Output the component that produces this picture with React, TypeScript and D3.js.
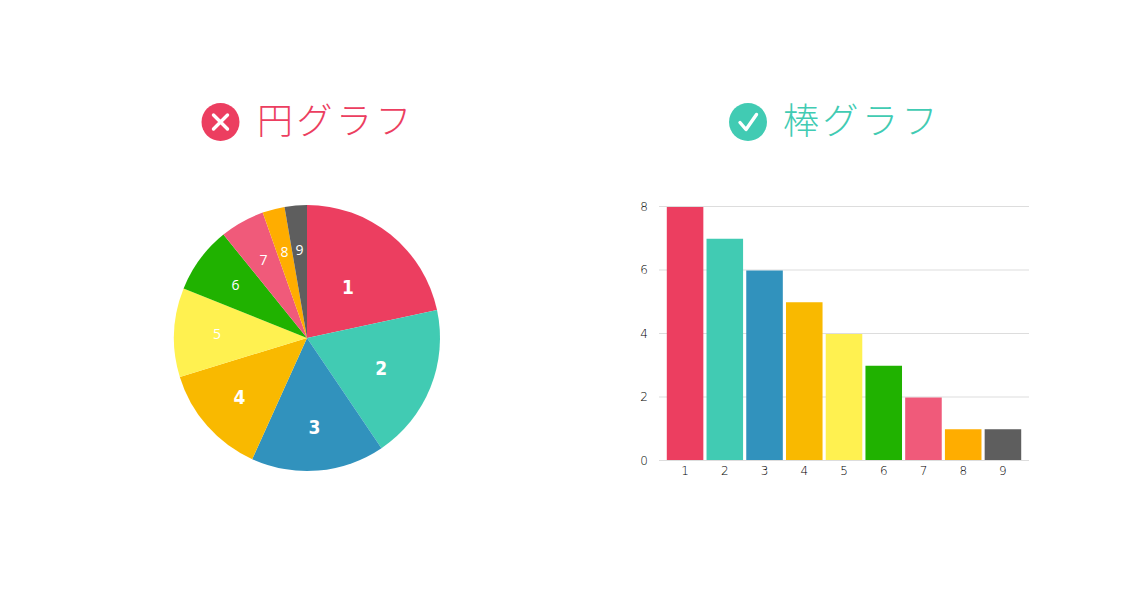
import React, { useEffect, useRef } from 'react';
import * as d3 from 'd3';

const categories = ['1', '2', '3', '4', '5', '6', '7', '8', '9'];
const values = [8, 7, 6, 5, 4, 3, 2, 1, 1];
const colours = ['#EC3E60', '#41CBB3', '#3192BD', '#F9B900', '#FFF150', '#20B200', '#F05A7A', '#FFAD00', '#5E5E5E'];
const yTicks = [0, 2, 4, 6, 8];
const pieTitle = '円グラフ';
const barTitle = '棒グラフ';

// labels sit closer to the centre on the big slices
const labelRadius = [65, 80, 89, 90, 90, 89, 89, 89, 88];

const width = 1140;
const height = 600;
const red = '#EC3E60';
const teal = '#41CBB3';

export default function App() {
    const ref = useRef<SVGSVGElement>(null);

    useEffect(() => {
        const svg = d3.select(ref.current);
        svg.selectAll('*').remove();

        // titles
        const badge = (x: number, colour: string) => svg.append('circle')
            .attr('cx', x).attr('cy', 122).attr('r', 19).attr('fill', colour);
        badge(220.5, red);
        badge(748, teal);

        svg.append('path')
            .attr('d', d3.line()([[213.5, 115], [227.5, 129]]) + d3.line()([[227.5, 115], [213.5, 129]])!)
            .attr('fill', 'none').attr('stroke', '#fff').attr('stroke-width', 3.4).attr('stroke-linecap', 'round');
        svg.append('path')
            .attr('d', d3.line()([[740, 122.5], [746, 129.5], [756.5, 114.5]]))
            .attr('fill', 'none').attr('stroke', '#fff').attr('stroke-width', 3.4)
            .attr('stroke-linecap', 'round').attr('stroke-linejoin', 'round');

        const title = (x: number, text: string, colour: string) => svg.append('text')
            .attr('x', x).attr('y', 134)
            .attr('fill', colour)
            .attr('font-family', '"Noto Sans CJK JP"')
            .attr('font-weight', 300)
            .attr('font-size', 36)
            .attr('letter-spacing', 3.5)
            .text(text);
        title(257, pieTitle, red);
        title(783, barTitle, teal);

        // pie
        const pieCentre = [307, 338];
        const pieRadius = 133;
        const pieData = d3.pie<number>().sort(null)(values);
        const arc = d3.arc<d3.PieArcDatum<number>>().innerRadius(0).outerRadius(pieRadius);
        const pie = svg.append('g').attr('transform', `translate(${pieCentre[0]},${pieCentre[1]})`);
        pie.selectAll('path')
            .data(pieData)
            .enter()
            .append('path')
            .attr('d', arc)
            .attr('fill', (_d, i) => colours[i]);
        pie.selectAll('text')
            .data(pieData)
            .enter()
            .append('text')
            .attr('transform', (d, i) => {
                const r = labelRadius[i];
                const c = d3.arc<d3.PieArcDatum<number>>().innerRadius(r).outerRadius(r).centroid(d);
                return `translate(${c[0]},${c[1]})`;
            })
            .attr('dy', '0.36em')
            .attr('text-anchor', 'middle')
            .attr('fill', '#fff')
            .attr('font-family', (_d, i) => i < 4 ? '"DejaVu Sans"' : '"Open Sans"')
            .attr('font-stretch', (_d, i) => i < 4 ? 'condensed' : 'normal')
            .attr('font-weight', (_d, i) => i < 4 ? 700 : 400)
            .attr('font-size', (_d, i) => i < 4 ? 19 : 14)
            .text((_d, i) => categories[i]);

        // bars
        const scaleX = d3.scaleBand()
            .domain(categories)
            .range([665.2, 1022.8])
            .paddingInner(0.08)
            .paddingOuter(0.04);
        const scaleY = d3.scaleLinear().domain([0, 8]).range([460.5, 206.5]);
        const gridLeft = 659;
        const gridRight = 1029;

        svg.append('g')
            .selectAll('line')
            .data(yTicks)
            .enter()
            .append('line')
            .attr('x1', gridLeft).attr('x2', gridRight)
            .attr('y1', d => scaleY(d)).attr('y2', d => scaleY(d))
            .attr('stroke', '#DDDDDD').attr('stroke-width', 1);

        // bars start just under their grid line and stop on top of the base line
        svg.append('g')
            .selectAll('rect')
            .data(values)
            .enter()
            .append('rect')
            .attr('x', (_d, i) => scaleX(categories[i])!)
            .attr('y', d => scaleY(d) + 0.5)
            .attr('width', scaleX.bandwidth())
            .attr('height', d => scaleY(0) - scaleY(d) - 1)
            .attr('fill', (_d, i) => colours[i]);

        const axisLeft = svg.append('g')
            .attr('transform', `translate(${gridLeft - 7}, 0)`)
            .call(d3.axisLeft(scaleY).tickValues(yTicks).tickSize(0).tickPadding(4));
        const axisBottom = svg.append('g')
            .attr('transform', 'translate(0, 461)')
            .call(d3.axisBottom(scaleX).tickSize(0).tickPadding(5));
        [axisLeft, axisBottom].forEach(axis => {
            axis.select('.domain').remove();
            axis.selectAll('text')
                .attr('fill', '#000')
                .attr('font-family', '"DejaVu Sans"')
                .attr('font-weight', 200)
                .attr('font-size', 12);
        });
    }, []);

    return (
        <svg ref={ref} width={width} height={height} viewBox={`0 0 ${width} ${height}`}
            style={{ position: 'absolute', left: 0, top: 0 }}>
        </svg>
    );
}
